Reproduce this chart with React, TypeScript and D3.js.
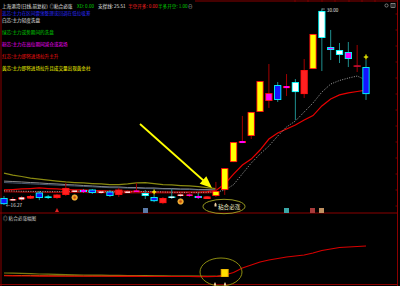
import React from "react";
import * as d3 from "d3";

// ---- candle data (price) ----
const opens = [16.76,16.62,16.66,16.73,17.14,16.86,16.76,16.97,17.21,17.32,17.35,17.14,17.21,16.97,17.14,17.21,17.11,16.83,16.40,16.86,16.94,16.94,16.90,16.69,16.90,17.32,19.27,20.60,21.09,22.77,23.54,24.65,24.44,24.86,24.02,25.77,29.83,27.31,27.10,26.96,25.95,25.91];
const highs = [16.90,16.83,16.90,16.97,17.25,16.97,17.04,17.81,17.39,17.39,17.39,17.32,17.32,17.46,17.32,17.81,17.32,16.97,16.83,17.39,17.11,17.18,17.11,16.90,17.88,18.85,20.67,22.49,22.77,24.93,26.12,24.86,25.42,25.07,26.47,28.22,30.00,28.50,27.59,27.66,27.45,26.40];
const lows = [16.27,16.54,16.54,16.69,16.61,16.69,16.69,16.90,17.11,17.11,17.04,17.04,16.83,16.83,17.11,17.11,16.69,16.47,16.33,16.69,16.83,16.83,16.69,16.69,16.83,16.97,19.27,20.60,20.88,22.77,23.05,23.47,23.89,22.21,23.75,25.77,25.63,26.40,26.19,25.91,25.56,23.61];
const closes = [16.33,16.68,16.80,16.90,16.76,16.80,17.00,17.46,17.28,17.18,17.11,17.21,16.90,17.35,17.21,17.28,16.90,16.54,16.76,16.80,17.00,17.00,16.76,16.86,17.25,18.85,20.67,20.74,22.77,24.93,24.09,23.61,24.58,24.16,25.70,28.22,27.94,27.10,26.75,26.47,26.02,24.02];
const cores = ["blue","white","white","red","blue","cyan","red","red","white","magenta","blue","white","blue","red","white","magenta","white","blue","red","white","white","magenta","magenta","red","yellow","yellow","yellow","magenta","yellow","yellow","magenta","blue","magenta","white","red","yellow","white","magenta","white","magenta","dark","blue"];

// ---- moving averages (price) ----
const maRed = [17.32,17.35,17.39,17.42,17.46,17.42,17.39,17.35,17.32,17.32,17.28,17.28,17.25,17.25,17.25,17.21,17.18,17.18,17.18,17.18,17.18,17.18,17.18,17.21,17.28,17.74,18.43,19.06,19.48,20.11,20.88,21.30,21.58,21.86,22.21,22.52,23.19,23.68,23.96,24.10,24.20,24.30];
const maDot = [17.26,17.25,17.23,17.22,17.21,17.20,17.20,17.21,17.22,17.23,17.22,17.21,17.20,17.19,17.19,17.20,17.21,17.20,17.18,17.16,17.15,17.15,17.15,17.16,17.18,17.30,17.69,18.45,19.20,19.83,20.39,21.09,21.72,22.14,22.77,23.40,24.16,24.72,24.97,25.14,25.28,25.00];
const maOlive = [18.50,18.36,18.26,18.15,18.08,18.01,17.94,17.88,17.84,17.81,17.77,17.74,17.70,17.70,17.74,17.81,17.84,17.77,17.70,17.67,17.63,17.60,17.56,17.49,17.42];
const maGray = [17.94,17.91,17.88,17.84,17.81,17.77,17.74,17.70,17.67,17.63,17.60,17.56,17.53,17.53,17.49,17.49,17.46,17.46,17.42,17.42,17.39,17.39,17.35,17.35,17.32];
const maSteel = [17.84,17.81,17.78,17.75,17.72,17.69,17.66,17.63,17.60,17.57,17.54,17.51,17.48,17.47,17.45,17.44,17.42,17.41,17.39,17.38,17.36,17.35,17.33,17.32,17.30];
const maDark = [17.20,17.19,17.18,17.17,17.17,17.16,17.16,17.15,17.15,17.15,17.14,17.14,17.14,17.13,17.13,17.13,17.12,17.12,17.12,17.12,17.12,17.12,17.12,17.13,17.15];

// ---- lower panel ----
const lowOlive = [4,3.8,3.6,3.3,3,2.8,2.6,2.4,2.2,2,1.9,1.8,1.7,1.6,1.5,1.4,1.3,1.2,1.1,1,1,0.9,0.8,0.7,0.6];
const lowOrange = [1.6,1.5,1.5,1.4,1.3,1.2,1.2,1.1,1.1,1.0,1.0,1.0,0.9,0.9,0.9,0.8,0.8,0.8,0.7,0.7,0.7,0.7,0.6,0.6,0.7,1.2];
const lowRed = [1.2,1.1,1.0,1.0,0.9,0.9,0.8,0.8,0.8,0.8,0.7,0.7,0.7,0.6,0.6,0.6,0.5,0.5,0.5,0.5,0.5,0.5,0.4,0.4,0.5,2,4.5,9,12,15,17,18.5,20,21,22,24,26.5,28,29.5,30,30.5,31];
const barIdx = [25];
const barVals = [8];

// ---- texts ----
const legendTexts = [
  "白芯:主力轻度洗盘",
  "绿芯:主力逆势期间的洗盘",
  "粉芯:主力在高位期间减仓或离场",
  "红芯:主力即将进场拉升主升",
  "黄芯:主力即将进场拉升且成交量出现黄金柱",
];
const legendColors = ["#e8e8e8", "#00d000", "#ff00ff", "#ff1010", "#ffff00"];
const blueText = "蓝芯:主力在区间震荡整理或回调在低位吸筹";
const coinIdx = [8, 20];
const plusIdx = [17, 41];
const topPrice = "30.00";
const lowPrice = "←16.27";

const coreFill: Record<string, string> = {
  blue: "#1414ff",
  white: "#ffffff",
  red: "#ff2020",
  cyan: "#00ffff",
  magenta: "#ff00ff",
  yellow: "#ffff00",
  dark: "#b0104a",
};

const FONT = "'Noto Sans CJK SC', 'Noto Sans', sans-serif";

export default function App() {
  const W = 400, H = 286;
  const x = d3.scaleLinear().domain([0, 41]).range([4, 366]);
  const y = d3.scaleLinear().domain([16.27, 30]).range([205, 8.5]);
  const yl = d3.scaleLinear().domain([0, 31]).range([277, 246]);
  const bw = 7.2;

  const mk = (ys: d3.ScaleLinear<number, number>) =>
    d3.line<number>().x((_, i) => x(i)).y((v) => ys(v)).curve(d3.curveLinear);
  const lineMain = mk(y);
  const lineLow = mk(yl);

  const dred = "#8a0000";

  return (
    <div style={{ position: "fixed", left: 0, top: 0, width: W, height: H, background: "#000" }}>
      <svg width={W} height={H} style={{ display: "block" }}>
        <rect x={0} y={0} width={W} height={H} fill="#000" />

        {/* frame */}
        <line x1={195} x2={397} y1={1} y2={1} stroke={dred} strokeWidth={1} />
        {[295, 308, 322, 335, 349, 362, 375].map((tx) => (
          <line key={tx} x1={tx} x2={tx} y1={0} y2={2} stroke={dred} strokeWidth={0.8} />
        ))}
        <line x1={1} x2={1} y1={9} y2={286} stroke={dred} strokeWidth={1} />
        <line x1={397.5} x2={397.5} y1={0} y2={286} stroke={dred} strokeWidth={1} />
        {d3.range(14, 212, 16).map((ty) => (
          <line key={ty} x1={395.5} x2={397.5} y1={ty} y2={ty} stroke={dred} strokeWidth={0.8} />
        ))}
        <line x1={0} x2={398} y1={213} y2={213} stroke={dred} strokeWidth={1} />
        <line x1={0} x2={398} y1={284.5} y2={284.5} stroke={dred} strokeWidth={1} />

        {/* header */}
        <g fontFamily={FONT} fontSize={4.6}>
          <text x={2} y={7.5} fill="#e8e8e8">上海港湾(日线,前复权)</text>
          <text x={49.5} y={7.5} fill="#c8c8c8">◎</text>
          <text x={54} y={7.5} fill="#e8e8e8">粘合必涨</text>
          <text x={77} y={7.5} fill="#00d000">XD: 0.00</text>
          <text x={98} y={7.5} fill="#e8e8e8">支撑线: 25.51</text>
          <text x={128} y={7.5} fill="#ff2020">半空开多: 0.00</text>
          <text x={158} y={7.5} fill="#00d000">半多开空: 1.00</text>
          <text x={188} y={7.5} fill="#c8c8c8">⊖</text>
          <text x={2} y={14.5} fill="#2a2aff">{blueText}</text>
          {legendTexts.map((t, i) => (
            <text key={i} x={2} y={22 + i * 12} fill={legendColors[i]}>{t}</text>
          ))}
          <circle cx={386.5} cy={5.5} r={1.6} fill="none" stroke="#bbb" strokeWidth={0.6} />
          <rect x={391} y={3.5} width={4} height={4} fill="none" stroke="#bbb" strokeWidth={0.6} />
          <line x1={393} x2={393} y1={3.5} y2={7.5} stroke="#bbb" strokeWidth={0.5} />
        </g>

        {/* moving averages (main) */}
        <path d={lineMain(maOlive) || ""} fill="none" stroke="#8a8a10" strokeWidth={1.2} />
        <path d={lineMain(maGray) || ""} fill="none" stroke="#8c8c8c" strokeWidth={1} />
        <path d={lineMain(maSteel) || ""} fill="none" stroke="#5a6c8c" strokeWidth={0.8} />
        <path d={lineMain(maDark) || ""} fill="none" stroke="#8a0000" strokeWidth={1.4} />
        <path d={lineMain(maRed) || ""} fill="none" stroke="#e80000" strokeWidth={1.2} />
        <path d={lineMain(maDot) || ""} fill="none" stroke="#b4b4b4" strokeWidth={0.9} strokeDasharray="1 1.4" />

        {/* candles */}
        {opens.map((o, i) => {
          const c = closes[i];
          const up = c >= o;
          const outline = up ? "#ff1010" : "#00ffff";
          const wick = up ? "#a00000" : "#1f8f8f";
          const cx = x(i);
          const top = y(Math.max(o, c));
          const bot = y(Math.min(o, c));
          const h = Math.max(bot - top, 1.3);
          const core = coreFill[cores[i]];
          const inset = h > 3 ? 0.9 : 0;
          return (
            <g key={i}>
              <line x1={cx} x2={cx} y1={y(highs[i])} y2={y(lows[i])} stroke={wick} strokeWidth={1} />
              <rect x={cx - bw / 2} y={top} width={bw} height={h} fill={outline} />
              <rect
                x={cx - bw / 2 + (inset || 1.2)}
                y={top + inset}
                width={bw - 2 * (inset || 1.2)}
                height={h - 2 * inset}
                fill={core}
              />
            </g>
          );
        })}

        {/* yellow plus markers */}
        {plusIdx.map((i) => {
          const cx = x(i), cy = y(highs[i]) - 3;
          return (
            <g key={i} stroke="#ffff00" strokeWidth={1.2}>
              <line x1={cx - 2.2} x2={cx + 2.2} y1={cy} y2={cy} />
              <line x1={cx} x2={cx} y1={cy - 2.4} y2={cy + 2.4} />
            </g>
          );
        })}

        {/* coin icons */}
        {coinIdx.map((i) => (
          <g key={i}>
            <circle cx={x(i)} cy={y(lows[i]) + 4.5} r={2.8} fill="#f0a020" stroke="#ffd060" strokeWidth={0.5} />
            <circle cx={x(i)} cy={y(lows[i]) + 4.5} r={1.2} fill="#c05010" />
          </g>
        ))}

        {/* price labels */}
        <g fontFamily={FONT} fontSize={4.6} fill="#e0e0e0">
          <line x1={x(36)} x2={x(36) + 3} y1={9} y2={9} stroke="#ddd" strokeWidth={0.6} />
          <text x={x(36) + 5} y={12}>{topPrice}</text>
          <text x={6} y={207}>{lowPrice}</text>
        </g>

        {/* bottom icons of main panel */}
        <path d="M55,212 L57,208 L59,212 Z" fill="#e02020" />
        <rect x={143} y={208} width={5} height={5} fill="#5a7aa8" />
        <rect x={284} y={208} width={5} height={5} fill="#3aa8a8" />
        <rect x={310} y={208} width={5} height={5} fill="#a83a3a" />
        <rect x={319} y={208} width={5} height={5} fill="#c09060" />

        {/* arrow */}
        <line x1={140} y1={124} x2={204} y2={181} stroke="#ffff00" strokeWidth={1.8} />
        <polygon points="212,188 199.7,183.7 206.3,176.3" fill="#ffff00" />

        {/* main label ellipse */}
        <ellipse cx={224} cy={206.5} rx={21} ry={7.2} fill="none" stroke="#9a9a20" strokeWidth={1} />
        <path d="M214.5,204 l1,-1.5 l1,1.5 l0,2.5 l-2,0 Z" fill="#f0d0a0" />
        <text x={218} y={209} fontFamily={FONT} fontSize={5.6} fill="#f0f0c8">粘合必涨</text>

        {/* lower panel */}
        <text x={3} y={219.5} fontFamily={FONT} fontSize={4.6} fill="#c8c8c8">◎ 粘合必涨幅图</text>
        <path d={lineLow(lowOlive) || ""} fill="none" stroke="#7a7a10" strokeWidth={1.2} />
        <path d={lineLow(lowOrange) || ""} fill="none" stroke="#d07010" strokeWidth={1} />
        <path d={lineLow(lowRed) || ""} fill="none" stroke="#d80000" strokeWidth={1.1} />
        {barIdx.map((i, k) => (
          <g key={i}>
            <rect x={x(i) - 4} y={yl(barVals[k])} width={8} height={yl(0) - yl(barVals[k])} fill="#e0a000" />
            <rect x={x(i) - 3} y={yl(barVals[k]) + 0.5} width={6} height={yl(0) - yl(barVals[k]) - 1} fill="#ffe000" />
          </g>
        ))}
        <ellipse cx={221} cy={272} rx={21} ry={14} fill="none" stroke="#8c8c10" strokeWidth={1} />
        <path d="M214,284 l1,-2 l1,2 l0,1.5 l-2,0 Z" fill="#f0d0a0" />
        <path d="M224,284 l1,-2 l1,2 l0,1.5 l-2,0 Z" fill="#f0d0a0" />
      </svg>
    </div>
  );
}
